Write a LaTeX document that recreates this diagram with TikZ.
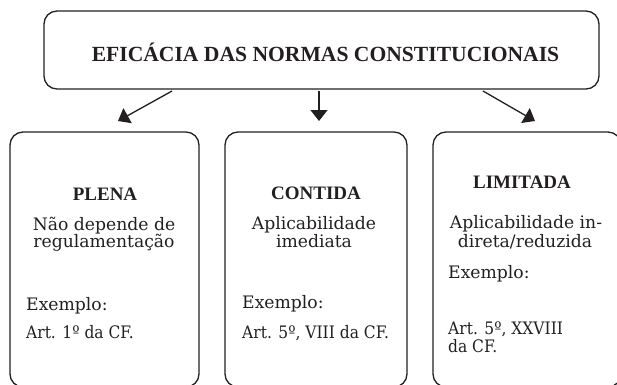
\documentclass[tikz,border=0pt]{standalone}
\usepackage{fontspec}
\setmainfont{DejaVu Serif}
\newfontfamily\titlefont{Liberation Serif}
\newfontfamily\condfont[FakeStretch=0.9]{DejaVu Serif}
\usetikzlibrary{arrows.meta}
\definecolor{ink}{HTML}{231F20}
\tikzset{
  box/.style={draw=ink, line width=1.3pt, rounded corners=13pt, inner sep=0pt},
  ttl/.style={font=\titlefont\bfseries\fontsize{21.6}{24}\selectfont, text=ink, inner sep=0pt, anchor=base},
  head/.style={font=\titlefont\bfseries\fontsize{19}{22}\selectfont, text=ink, inner sep=0pt, anchor=base},
  txt/.style={font=\fontsize{17.2}{20}\selectfont, text=ink, inner sep=0pt},
  art/.style={font=\condfont\fontsize{17.2}{20}\selectfont, text=ink, inner sep=0pt, anchor=base west},
  conn/.style={draw=ink, line width=1.3pt, -{Triangle[length=11pt,width=17pt]}}
}
\begin{document}
\begin{tikzpicture}[x=1pt,y=-1pt]
\useasboundingbox (0,0) rectangle (617,384);
\clip (0,0) rectangle (617,384);
% top box
\node[box, minimum width=555pt, minimum height=78pt] (top) at (321.5,50) {};
\node[ttl] (title) at (325.5,61) {EFICÁCIA DAS NORMAS CONSTITUCIONAIS};
% bottom boxes
\node[box, minimum width=189pt, minimum height=255pt] (b1) at (104.5,259.5) {};
\node[box, minimum width=182pt, minimum height=255pt] (b2) at (316,259.5) {};
\node[box, minimum width=188pt, minimum height=255pt] (b3) at (527,259.5) {};
% arrows
\coordinate (s1) at (172,91); \coordinate (e1) at (118,121);
\coordinate (s2) at (319,91); \coordinate (e2) at (319,121);
\coordinate (s3) at (483,91); \coordinate (e3) at (535,121);
\draw[conn] (s1) -- (e1);
\draw[conn] (s2) -- (e2);
\draw[conn] (s3) -- (e3);
% box 1
\node[head] (h1) at (105,200) {PLENA};
\node[txt, anchor=base] (t1a) at (104,230) {Não depende de};
\node[txt, anchor=base] (t1b) at (104,247) {regulamentação};
\node[txt, anchor=base west] (x1) at (26,310) {Exemplo:};
\node[art] (r1) at (26,338) {Art. 1º da CF.};
% box 2
\node[head] (h2) at (316,199) {CONTIDA};
\node[txt, anchor=base] (t2a) at (314,229) {Aplicabilidade};
\node[txt, anchor=base] (t2b) at (314,247) {imediata};
\node[txt, anchor=base west] (x2) at (242,308) {Exemplo:};
\node[art] (r2) at (242,338) {Art. 5º, VIII da CF.};
% box 3
\node[head] (h3) at (522,188) {LIMITADA};
\node[txt, anchor=base] (t3a) at (526,228) {Aplicabilidade in-};
\node[txt, anchor=base] (t3b) at (525,247) {direta/reduzida};
\node[txt, anchor=base west] (x3) at (448,278) {Exemplo:};
\node[art] (r3a) at (448,334) {Art. 5º, XXVIII};
\node[art] (r3b) at (448,352) {da CF.};
\end{tikzpicture}
\end{document}
